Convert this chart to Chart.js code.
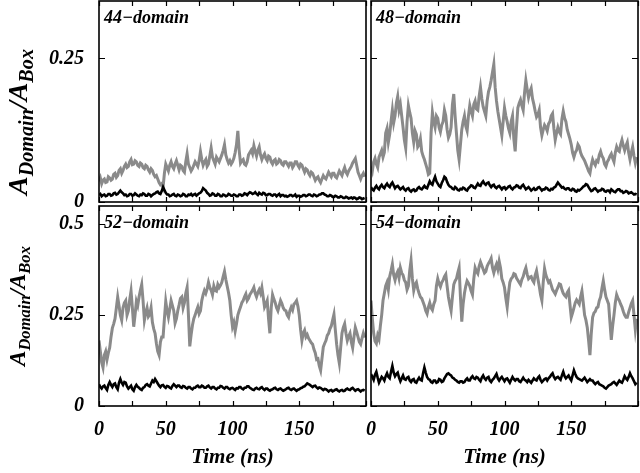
<!DOCTYPE html>
<html>
<head>
<meta charset="utf-8">
<script src="https://cdn.jsdelivr.net/npm/chart.js@4.4.1/dist/chart.umd.min.js"></script>
<style>
  html, body { margin: 0; padding: 0; background: #fff; }
  #page { position: relative; width: 640px; height: 473px; overflow: hidden; }
  canvas { position: absolute; left: 0; top: 0; }
  .ytitle {
    position: absolute; left: 20px;
    transform: translate(-50%, -50%) rotate(-90deg);
    white-space: nowrap;
    font-family: 'Liberation Serif', 'DejaVu Serif', serif;
    font-weight: bold; font-style: italic;
    color: #000; line-height: 1;
  }
  .ytitle sub { font-size: 0.72em; vertical-align: -0.3em; }
</style>
</head>
<body>
<div id="page">
  <canvas id="c44" width="640" height="473"></canvas>
  <canvas id="c48" width="640" height="473"></canvas>
  <canvas id="c52" width="640" height="473"></canvas>
  <canvas id="c54" width="640" height="473"></canvas>
  <div class="ytitle" style="top:122px;font-size:28px">A<sub>Domain</sub>/A<sub>Box</sub></div>
  <div class="ytitle" style="top:306px;font-size:23px">A<sub>Domain</sub>/A<sub>Box</sub></div>
</div>
<script>
// time axis (ns), one sample per ns
const times = [0,1,2,3,4,5,6,7,8,9,10,11,12,13,14,15,16,17,18,19,
  20,21,22,23,24,25,26,27,28,29,30,31,32,33,34,35,36,37,38,39,
  40,41,42,43,44,45,46,47,48,49,50,51,52,53,54,55,56,57,58,59,
  60,61,62,63,64,65,66,67,68,69,70,71,72,73,74,75,76,77,78,79,
  80,81,82,83,84,85,86,87,88,89,90,91,92,93,94,95,96,97,98,99,
  100,101,102,103,104,105,106,107,108,109,110,111,112,113,114,115,116,117,118,119,
  120,121,122,123,124,125,126,127,128,129,130,131,132,133,134,135,136,137,138,139,
  140,141,142,143,144,145,146,147,148,149,150,151,152,153,154,155,156,157,158,159,
  160,161,162,163,164,165,166,167,168,169,170,171,172,173,174,175,176,177,178,179,
  180,181,182,183,184,185,186,187,188,189,190,191,192,193,194,195,196,197,198,199];

const xTickValues = [0, 25, 50, 75, 100, 125, 150, 175, 200];
const xTickLabels = ['0', '', '50', '', '100', '', '150', '', ''];
const yTickValuesTop = [0, 0.25];
const yTickLabelsTop = ['0', '0.25'];
const yTickValuesBottom = [0, 0.25, 0.5];
const yTickLabelsBottom = ['0', '0.25', '0.5'];

// 44-domain
const gray44 = [.036,.042,.032,.038,.040,.034,.035,.044,.042,.038,.040,.048,.050,.043,.046,.055,.058,.050,.055,.062,
  .066,.060,.062,.070,.074,.065,.066,.072,.070,.064,.062,.068,.066,.060,.058,.064,.062,.056,.052,.058,
  .055,.048,.044,.046,.040,.034,.030,.032,.026,.050,.066,.060,.054,.064,.070,.062,.058,.066,.072,.064,
  .056,.064,.062,.055,.052,.070,.084,.066,.060,.054,.058,.064,.070,.066,.062,.072,.088,.074,.064,.070,
  .074,.062,.066,.080,.094,.078,.072,.066,.078,.074,.070,.076,.082,.090,.100,.082,.074,.068,.072,.066,
  .070,.076,.086,.100,.124,.090,.068,.072,.074,.066,.064,.070,.082,.086,.090,.084,.098,.088,.080,.090,
  .096,.082,.074,.080,.084,.076,.072,.080,.078,.070,.066,.072,.074,.066,.068,.074,.072,.066,.064,.070,
  .070,.066,.062,.068,.068,.060,.064,.070,.070,.064,.060,.066,.064,.058,.052,.058,.056,.050,.046,.052,
  .050,.044,.038,.042,.044,.038,.034,.040,.046,.042,.040,.046,.052,.048,.044,.050,.050,.044,.042,.048,
  .054,.050,.046,.054,.060,.052,.048,.054,.058,.062,.068,.072,.076,.064,.052,.046,.040,.046,.050,.044];
const black44 = [.012,.014,.010,.012,.013,.010,.011,.014,.014,.011,.012,.015,.016,.013,.014,.017,.020,.017,.015,.012,
  .013,.010,.011,.014,.014,.011,.012,.015,.013,.011,.010,.013,.012,.015,.014,.011,.011,.014,.013,.010,
  .012,.014,.015,.017,.018,.015,.014,.019,.026,.021,.016,.013,.013,.010,.011,.013,.014,.011,.010,.013,
  .012,.010,.011,.014,.013,.010,.010,.013,.012,.014,.011,.013,.014,.011,.013,.015,.016,.019,.024,.022,
  .020,.016,.014,.011,.012,.015,.014,.011,.011,.014,.013,.010,.010,.013,.012,.010,.011,.014,.013,.011,
  .011,.013,.012,.010,.010,.013,.013,.011,.012,.015,.014,.012,.015,.017,.016,.014,.015,.017,.014,.012,
  .016,.014,.013,.016,.015,.012,.012,.014,.014,.012,.011,.013,.013,.010,.012,.014,.010,.012,.012,.010,
  .011,.009,.010,.012,.012,.010,.011,.013,.009,.011,.011,.009,.010,.012,.012,.010,.011,.013,.013,.011,
  .010,.013,.012,.010,.011,.013,.013,.015,.015,.013,.012,.010,.010,.012,.011,.009,.009,.011,.010,.008,
  .008,.010,.009,.007,.007,.009,.008,.006,.007,.008,.006,.008,.007,.005,.006,.008,.007,.005,.006,.007];

// 48-domain
const gray48 = [.062,.054,.070,.076,.066,.060,.078,.084,.090,.078,.086,.120,.128,.104,.118,.140,.160,.138,.150,.172,
  .184,.160,.170,.150,.130,.108,.094,.140,.168,.156,.146,.120,.104,.124,.118,.096,.100,.110,.088,.080,
  .074,.066,.058,.048,.050,.120,.156,.140,.130,.150,.146,.130,.122,.134,.140,.160,.150,.126,.112,.118,
  .130,.170,.188,.150,.120,.090,.074,.100,.126,.140,.150,.132,.124,.150,.168,.158,.150,.170,.176,.162,
  .160,.184,.200,.180,.166,.158,.150,.176,.192,.200,.212,.226,.240,.200,.176,.158,.144,.130,.116,.140,
  .164,.150,.140,.128,.120,.140,.150,.110,.088,.130,.164,.172,.178,.168,.160,.190,.212,.196,.182,.192,
  .198,.180,.170,.158,.148,.152,.160,.130,.116,.126,.134,.130,.124,.136,.140,.150,.154,.128,.108,.120,
  .130,.122,.118,.144,.158,.146,.140,.126,.118,.110,.100,.086,.078,.086,.090,.100,.096,.086,.080,.076,
  .072,.066,.060,.054,.050,.064,.074,.068,.064,.072,.070,.082,.088,.080,.076,.066,.062,.070,.074,.080,
  .084,.076,.070,.086,.096,.090,.088,.100,.108,.098,.090,.098,.104,.086,.074,.086,.096,.080,.068,.078];
const black48 = [.026,.022,.020,.025,.028,.024,.022,.027,.030,.026,.024,.029,.032,.028,.026,.031,.034,.029,.024,.027,
  .028,.025,.022,.024,.026,.022,.020,.023,.024,.020,.018,.021,.022,.019,.020,.024,.026,.023,.022,.025,
  .028,.025,.024,.030,.036,.032,.030,.038,.044,.036,.032,.028,.026,.033,.038,.044,.042,.035,.030,.027,
  .026,.023,.022,.026,.024,.021,.020,.023,.022,.025,.024,.021,.020,.024,.026,.029,.028,.025,.024,.028,
  .032,.029,.028,.033,.036,.032,.030,.033,.034,.029,.026,.029,.030,.026,.024,.027,.028,.025,.022,.025,
  .026,.022,.024,.027,.028,.024,.022,.025,.026,.029,.028,.025,.024,.028,.030,.026,.022,.024,.026,.023,
  .020,.022,.024,.021,.022,.025,.026,.023,.020,.022,.022,.025,.024,.021,.020,.023,.022,.025,.026,.030,
  .034,.031,.028,.025,.026,.023,.022,.024,.024,.021,.020,.023,.022,.019,.018,.021,.020,.022,.024,.027,
  .028,.031,.030,.026,.022,.019,.020,.023,.024,.021,.018,.020,.020,.023,.022,.019,.018,.020,.020,.017,
  .022,.020,.018,.017,.020,.022,.022,.019,.019,.016,.017,.019,.018,.015,.016,.017,.015,.013,.014,.013];

// 52-domain
const gray52 = [.180,.150,.120,.106,.140,.150,.128,.146,.160,.190,.214,.226,.240,.270,.300,.276,.250,.236,.270,.284,
  .290,.250,.262,.292,.316,.270,.218,.250,.288,.276,.300,.318,.334,.290,.236,.256,.270,.246,.252,.270,
  .230,.212,.200,.172,.150,.140,.176,.190,.190,.240,.288,.262,.244,.266,.290,.276,.262,.228,.240,.262,
  .278,.296,.300,.270,.284,.310,.326,.250,.164,.196,.222,.240,.250,.262,.272,.254,.262,.290,.306,.318,
  .310,.322,.340,.326,.318,.306,.330,.318,.316,.334,.326,.332,.340,.356,.370,.348,.330,.312,.290,.250,
  .218,.230,.206,.226,.250,.262,.272,.284,.290,.300,.308,.290,.296,.306,.312,.318,.326,.310,.300,.312,
  .320,.310,.326,.300,.272,.280,.290,.240,.200,.270,.306,.294,.284,.270,.262,.276,.290,.282,.270,.264,
  .262,.250,.244,.262,.272,.264,.280,.284,.290,.274,.250,.210,.180,.200,.208,.190,.196,.186,.180,.174,
  .170,.156,.146,.128,.130,.110,.098,.130,.162,.172,.180,.194,.200,.212,.220,.236,.252,.210,.170,.140,
  .118,.160,.200,.216,.226,.200,.180,.192,.200,.176,.160,.190,.216,.204,.190,.176,.170,.186,.200,.188];
const black52 = [.060,.052,.048,.054,.056,.049,.044,.058,.066,.058,.052,.060,.062,.052,.046,.064,.074,.064,.058,.066,
  .064,.054,.048,.052,.056,.046,.042,.052,.058,.053,.050,.046,.044,.050,.052,.058,.060,.056,.054,.062,
  .070,.066,.074,.068,.062,.056,.052,.057,.058,.053,.050,.055,.054,.050,.048,.055,.060,.056,.052,.056,
  .056,.052,.050,.055,.054,.050,.048,.052,.052,.048,.046,.050,.050,.054,.056,.052,.052,.056,.054,.050,
  .050,.054,.056,.051,.048,.052,.052,.048,.046,.050,.050,.055,.054,.050,.048,.052,.052,.048,.046,.049,
  .050,.047,.044,.049,.048,.052,.052,.048,.046,.050,.050,.054,.054,.050,.048,.045,.044,.048,.050,.047,
  .046,.050,.052,.047,.044,.048,.048,.044,.042,.045,.046,.049,.050,.046,.044,.047,.048,.045,.042,.044,
  .046,.049,.050,.046,.044,.047,.048,.045,.042,.045,.046,.049,.050,.053,.054,.058,.062,.060,.058,.055,
  .052,.055,.056,.051,.048,.051,.050,.047,.044,.047,.046,.043,.040,.043,.044,.040,.042,.045,.046,.042,
  .040,.043,.044,.041,.042,.046,.048,.045,.044,.048,.050,.046,.042,.045,.046,.043,.040,.043,.044,.042];

// 54-domain
const gray54 = [.290,.240,.200,.178,.172,.194,.184,.220,.250,.290,.310,.330,.340,.320,.356,.372,.390,.360,.346,.362,
  .370,.352,.380,.366,.360,.346,.340,.320,.330,.372,.400,.350,.318,.334,.340,.322,.310,.300,.296,.286,
  .276,.262,.254,.272,.284,.270,.264,.280,.290,.330,.350,.336,.328,.340,.346,.356,.362,.330,.300,.280,
  .262,.300,.334,.344,.350,.366,.380,.300,.232,.280,.310,.330,.344,.338,.330,.316,.306,.350,.380,.370,
  .364,.384,.396,.386,.376,.366,.370,.384,.392,.398,.406,.380,.366,.380,.390,.376,.398,.380,.350,.340,
  .326,.296,.272,.310,.340,.350,.354,.364,.362,.352,.346,.340,.334,.348,.356,.370,.380,.362,.350,.354,
  .356,.346,.340,.360,.372,.350,.330,.306,.290,.340,.378,.360,.350,.340,.344,.332,.320,.314,.308,.318,
  .326,.336,.334,.320,.310,.304,.300,.312,.318,.280,.244,.256,.270,.284,.292,.286,.280,.300,.316,.284,
  .250,.236,.216,.180,.140,.200,.244,.256,.260,.270,.272,.290,.300,.324,.344,.320,.300,.290,.280,.230,
  .182,.220,.250,.284,.306,.296,.290,.280,.272,.260,.250,.244,.244,.258,.270,.282,.290,.250,.210,.240];
const black54 = [.088,.080,.072,.086,.094,.078,.064,.072,.080,.076,.070,.082,.090,.080,.076,.094,.110,.092,.082,.088,
  .092,.078,.068,.076,.084,.074,.072,.078,.080,.070,.066,.072,.074,.066,.064,.072,.078,.072,.070,.090,
  .106,.092,.080,.074,.072,.066,.064,.070,.070,.064,.066,.074,.072,.066,.068,.076,.082,.088,.090,.086,
  .084,.078,.076,.072,.070,.066,.064,.068,.068,.064,.066,.072,.076,.070,.070,.078,.082,.076,.074,.080,
  .078,.072,.068,.078,.084,.076,.072,.078,.080,.070,.066,.072,.076,.082,.088,.076,.070,.076,.080,.074,
  .068,.074,.076,.070,.064,.072,.080,.074,.070,.074,.074,.068,.066,.072,.078,.072,.070,.066,.072,.068,
  .064,.070,.076,.072,.070,.078,.082,.072,.066,.070,.074,.076,.070,.076,.080,.086,.090,.080,.074,.078,
  .080,.076,.072,.084,.094,.082,.076,.080,.084,.076,.070,.084,.098,.088,.080,.076,.074,.072,.070,.074,
  .078,.072,.066,.070,.074,.070,.070,.064,.060,.064,.066,.060,.058,.056,.054,.050,.048,.052,.056,.058,
  .060,.064,.066,.062,.058,.064,.070,.066,.064,.072,.082,.076,.072,.080,.090,.082,.076,.068,.060,.064];

const FONT = "'Liberation Serif', 'DejaVu Serif', serif";
const GRAY = '#8a8a8a';

function toPoints(values) {
  return times.map((t, i) => ({ x: t, y: values[i] }));
}

// frame, inward ticks on all four sides and the panel label
const framePlugin = {
  id: 'frame',
  afterDatasetsDraw(chart, args, opts) {
    const { ctx, chartArea: a, scales } = chart;
    ctx.save();
    ctx.strokeStyle = '#000';
    ctx.lineWidth = 1.2;
    ctx.beginPath();
    opts.xTicks.forEach(v => {
      const px = Math.round(scales.x.getPixelForValue(v)) + 0.5;
      ctx.moveTo(px, a.bottom); ctx.lineTo(px, a.bottom - 5);
      ctx.moveTo(px, a.top); ctx.lineTo(px, a.top + 5);
    });
    opts.yTicks.forEach(v => {
      const py = Math.round(scales.y.getPixelForValue(v)) + 0.5;
      ctx.moveTo(a.left, py); ctx.lineTo(a.left + 6, py);
      ctx.moveTo(a.right, py); ctx.lineTo(a.right - 6, py);
    });
    ctx.stroke();
    ctx.lineWidth = 1.6;
    ctx.strokeRect(a.left, a.top, a.right - a.left, a.bottom - a.top);
    ctx.fillStyle = '#000';
    ctx.font = 'italic bold 18px ' + FONT;
    ctx.textBaseline = 'alphabetic';
    ctx.fillText(opts.label, a.left + 5, a.top + 22);
    ctx.restore();
  }
};

// no label overhang padding, so the plot box sits where the padding puts it
function noPad(s) {
  s.paddingLeft = 0; s.paddingRight = 0; s.paddingTop = 0; s.paddingBottom = 0;
}

function makePanel(id, opt) {
  const xScale = {
    type: 'linear', min: 0, max: 200,
    display: opt.showX,
    grid: { display: false, drawTicks: false },
    border: { display: false },
    afterBuildTicks: s => { s.ticks = xTickValues.map(v => ({ value: v })); },
    afterFit: s => { if (opt.showX) s.height = 67; noPad(s); },
    ticks: {
      padding: 12, color: '#000', maxRotation: 0, autoSkip: false,
      font: { family: FONT, size: 20, style: 'italic', weight: 'bold' },
      callback: (v, i) => xTickLabels[i]
    },
    title: {
      display: opt.showX, text: 'Time (ns)', color: '#000',
      padding: { top: 0, bottom: 3 },
      font: { family: FONT, size: 21, style: 'italic', weight: 'bold' }
    }
  };
  const yScale = {
    type: 'linear', min: 0, max: opt.yMax,
    display: opt.showY,
    grid: { display: false, drawTicks: false },
    border: { display: false },
    afterBuildTicks: s => { s.ticks = opt.yTicks.map(v => ({ value: v })); },
    afterFit: s => { if (opt.showY) s.width = 99; noPad(s); },
    ticks: {
      padding: 15, color: '#000', autoSkip: false,
      font: { family: FONT, size: 20, style: 'italic', weight: 'bold' },
      callback: (v, i) => opt.yLabels[i]
    }
  };
  return new Chart(document.getElementById(id), {
    type: 'line',
    data: {
      datasets: [
        { data: toPoints(opt.black), borderColor: '#000', borderWidth: 2.6, pointRadius: 0, tension: 0 },
        { data: toPoints(opt.gray), borderColor: GRAY, borderWidth: 3, pointRadius: 0, tension: 0 }
      ]
    },
    options: {
      responsive: false,
      animation: false,
      devicePixelRatio: 1,
      layout: { padding: opt.padding },
      plugins: {
        legend: { display: false },
        tooltip: { enabled: false },
        frame: { label: opt.label, xTicks: xTickValues, yTicks: opt.yTicks }
      },
      scales: { x: xScale, y: yScale }
    },
    plugins: [framePlugin]
  });
}

makePanel('c44', {
  label: '44\u2212domain', gray: gray44, black: black44,
  yMax: 0.35, yTicks: yTickValuesTop, yLabels: yTickLabelsTop,
  showX: false, showY: true,
  padding: { left: 0, top: 1, right: 274, bottom: 271 }
});
makePanel('c48', {
  label: '48\u2212domain', gray: gray48, black: black48,
  yMax: 0.35, yTicks: yTickValuesTop, yLabels: yTickLabelsTop,
  showX: false, showY: false,
  padding: { left: 371, top: 1, right: 2, bottom: 271 }
});
makePanel('c52', {
  label: '52\u2212domain', gray: gray52, black: black52,
  yMax: 0.55, yTicks: yTickValuesBottom, yLabels: yTickLabelsBottom,
  showX: true, showY: true,
  padding: { left: 0, top: 206, right: 274, bottom: 0 }
});
makePanel('c54', {
  label: '54\u2212domain', gray: gray54, black: black54,
  yMax: 0.55, yTicks: yTickValuesBottom, yLabels: yTickLabelsBottom,
  showX: true, showY: false,
  padding: { left: 371, top: 206, right: 2, bottom: 0 }
});
</script>
</body>
</html>
